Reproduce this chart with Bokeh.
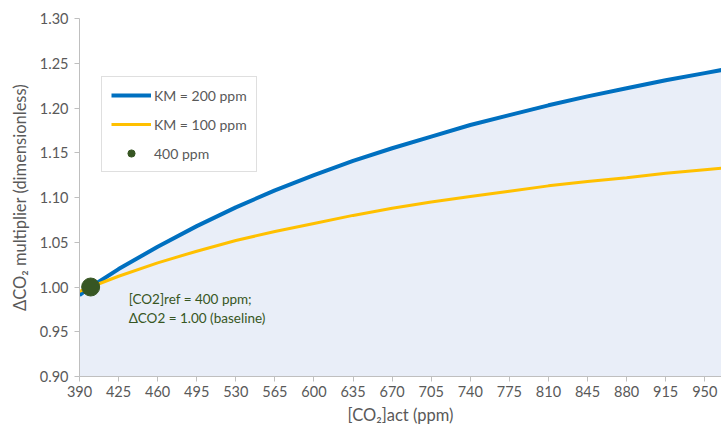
from bokeh.plotting import figure
from bokeh.models import FixedTicker, Legend, LegendItem, Label, Range1d, CustomJSTickFormatter
from bokeh.embed import file_html
from bokeh.resources import INLINE

# data
co2_act = [390, 400, 425, 460, 495, 530, 565, 600, 635, 670, 705, 740, 775, 810, 845, 880, 915, 950, 985]
km200 = [0.991, 1.000, 1.020, 1.045, 1.068, 1.089, 1.108, 1.125, 1.141, 1.155, 1.168, 1.181, 1.192, 1.203, 1.213, 1.222, 1.231, 1.239, 1.247]
km100 = [0.995, 1.000, 1.012, 1.027, 1.040, 1.052, 1.062, 1.071, 1.080, 1.088, 1.095, 1.101, 1.107, 1.113, 1.118, 1.122, 1.127, 1.131, 1.135]
ref_x = [400]
ref_y = [1.00]
x_ticks = [390, 425, 460, 495, 530, 565, 600, 635, 670, 705, 740, 775, 810, 845, 880, 915, 950]
y_ticks = [0.90, 0.95, 1.00, 1.05, 1.10, 1.15, 1.20, 1.25, 1.30]

FONT = "Lato"
GRAY = "#595959"

p = figure(width=721, height=427, output_backend="svg", toolbar_location=None,
           x_range=Range1d(390, 965), y_range=Range1d(0.90, 1.30),
           min_border_left=79, min_border_right=0, min_border_top=18, min_border_bottom=51)
p.outline_line_color = None
p.xgrid.visible = False
p.ygrid.visible = False
p.background_fill_color = "white"
p.border_fill_color = "white"

area = p.varea(x=co2_act, y1=[0.90] * len(co2_act), y2=km200, fill_color="#e9eef8")
l200 = p.line(co2_act, km200, line_color="#0070C0", line_width=4)
l100 = p.line(co2_act, km100, line_color="#FFC000", line_width=3)
dot = p.scatter(ref_x, ref_y, size=18, fill_color="#375623", line_color="#375623")

for ax in (p.xaxis, p.yaxis):
    ax.axis_line_color = "#bfbfbf"
    ax.major_tick_line_color = "#bfbfbf"
    ax.major_tick_out = 5
    ax.major_tick_in = 0
    ax.minor_tick_line_color = None
    ax.major_label_text_font = FONT
    ax.major_label_text_font_size = "14.5px"
    ax.major_label_text_color = GRAY
    ax.axis_label_text_font = FONT
    ax.axis_label_text_font_size = "16.5px"
    ax.axis_label_text_color = GRAY
    ax.axis_label_text_font_style = "normal"

p.xaxis.ticker = FixedTicker(ticks=x_ticks)
p.yaxis.ticker = FixedTicker(ticks=y_ticks)
p.yaxis.formatter = CustomJSTickFormatter(code="return tick.toFixed(2);")
p.xaxis.axis_label = "[CO₂]act (ppm)"
p.yaxis.axis_label = "ΔCO₂ multiplier (dimensionless)"
p.xaxis.major_label_standoff = 4
p.yaxis.major_label_standoff = 6
p.xaxis.axis_label_standoff = 5
p.yaxis.axis_label_standoff = 7

legend = Legend(items=[
    LegendItem(label="KM = 200 ppm", renderers=[l200]),
    LegendItem(label="KM = 100 ppm", renderers=[l100]),
    LegendItem(label="400 ppm", renderers=[dot]),
], location=(22, 204))
legend.border_line_color = "#bfbfbf"
legend.border_line_width = 1
legend.background_fill_color = "white"
legend.background_fill_alpha = 1
legend.label_text_font = FONT
legend.label_text_font_size = "14px"
legend.label_text_color = GRAY
legend.glyph_width = 40
legend.glyph_height = 18
legend.label_height = 18
legend.label_standoff = 3
legend.spacing = 11
legend.padding = 9
legend.margin = 0
p.add_layout(legend, "center")

for txt, yy in (("[CO2]ref = 400 ppm;", 0.996), ("ΔCO2 = 1.00 (baseline)", 0.974)):
    p.add_layout(Label(x=434, y=yy, text=txt, text_font=FONT, text_font_size="13.5px",
                       text_color="#375623", text_baseline="top", text_align="left"))

open("out.html", "w").write(file_html(p, INLINE))
